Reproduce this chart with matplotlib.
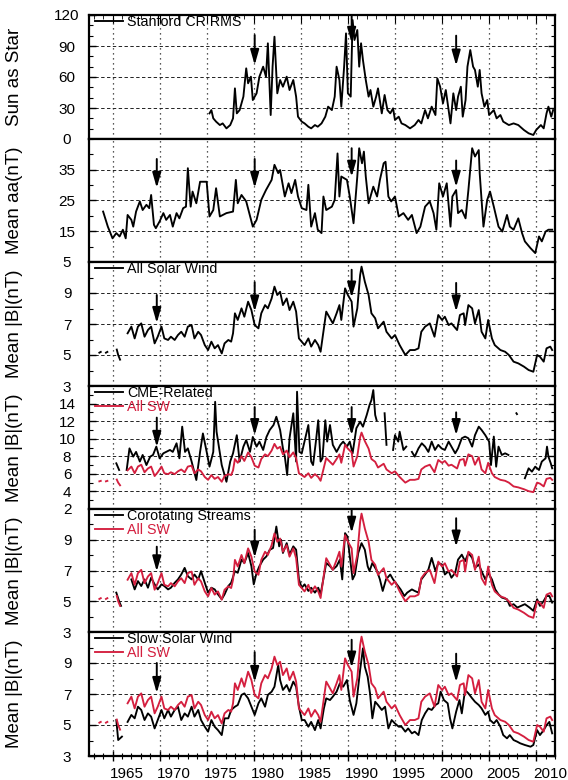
import numpy as np
import matplotlib
matplotlib.use("Agg")
import matplotlib.pyplot as plt
from matplotlib.ticker import MultipleLocator
import matplotlib.transforms as mtransforms

plt.rcParams["font.family"] = ["Liberation Sans", "DejaVu Sans"]
nan = np.nan

# ---- Stanford sun-as-a-star CR RMS field ----
wso_year = [1975.3, 1975.5, 1975.7, 1976.0, 1976.4, 1976.7, 1977.1, 1977.5, 1977.8, 1978.0,
            1978.2, 1978.5, 1978.9, 1979.2, 1979.4, 1979.7, 1979.9, 1980.3, 1980.6, 1981.0,
            1981.3, 1981.5, 1981.8, 1982.0, 1982.2, 1982.5, 1982.8, 1983.1, 1983.5, 1983.8,
            1984.2, 1984.5, 1984.7, 1985.1, 1985.4, 1985.8, 1986.1, 1986.5, 1986.8, 1987.2,
            1987.6, 1987.9, 1988.3, 1988.6, 1988.8, 1989.1, 1989.3, 1989.6, 1989.8, 1990.0,
            1990.3, 1990.5, 1990.7, 1991.0, 1991.2, 1991.4, 1991.6, 1991.9, 1992.2, 1992.4,
            1992.7, 1993.0, 1993.2, 1993.6, 1993.9, 1994.2, 1994.5, 1994.8, 1995.0, 1995.4,
            1995.7, 1996.1, 1996.6, 1997.1, 1997.5, 1997.8, 1998.2, 1998.5, 1998.9, 1999.3,
            1999.5, 1999.8, 2000.1, 2000.4, 2000.7, 2000.9, 2001.2, 2001.5, 2001.7, 2002.0,
            2002.2, 2002.5, 2002.7, 2003.0, 2003.3, 2003.5, 2003.8, 2004.0, 2004.2, 2004.5,
            2004.8, 2005.0, 2005.5, 2005.8, 2006.2, 2006.5, 2007.1, 2007.6, 2008.1, 2008.7,
            2009.2, 2009.7, 2010.0, 2010.5, 2010.8, 2011.1, 2011.3, 2011.6, 2011.8]
wso_rms = [24.8, 28.0, 20.0, 16.8, 13.5, 15.1, 10.3, 13.5, 20.0, 49.0,
           24.8, 28.0, 41.0, 68.4, 53.9, 60.3, 37.7, 44.2, 60.3, 70.0,
           60.3, 92.6, 23.2, 70.0, 99.0, 44.2, 57.1, 50.6, 60.3, 47.4,
           57.1, 41.0, 21.6, 16.8, 15.1, 11.9, 10.3, 13.5, 11.9, 15.1,
           21.6, 31.3, 28.0, 41.0, 70.0, 57.1, 31.3, 70.0, 102.2, 44.2,
           41.0, 115.1, 95.8, 105.5, 70.0, 92.6, 76.4, 57.1, 41.0, 47.4,
           31.3, 41.0, 49.0, 24.8, 42.6, 28.0, 24.8, 29.7, 18.4, 21.6,
           15.1, 13.5, 10.3, 13.5, 18.4, 15.1, 28.0, 20.0, 31.3, 23.2,
           58.7, 50.6, 34.5, 47.4, 28.0, 15.1, 44.2, 28.0, 41.0, 50.6,
           21.6, 37.7, 70.0, 86.1, 70.0, 66.8, 50.6, 66.8, 44.2, 31.3,
           37.7, 23.2, 28.0, 20.0, 23.2, 16.8, 13.5, 15.1, 13.5, 8.7,
           5.5, 3.9, 8.7, 13.5, 10.3, 24.8, 31.3, 21.6, 28.0]

# ---- mean aa index ----
aa_year = [1964.0, 1964.5, 1965.0, 1965.4, 1965.75, 1966.1, 1966.4, 1966.6, 1967.0, 1967.2,
           1967.5, 1967.9, 1968.2, 1968.6, 1968.9, 1969.1, 1969.4, 1969.6, 1970.0, 1970.4,
           1970.7, 1971.1, 1971.4, 1971.8, 1972.1, 1972.5, 1972.8, 1973.0, 1973.3, 1973.5,
           1973.9, 1974.3, 1975.0, 1975.3, 1975.7, 1976.0, 1976.4, 1977.1, 1977.8, 1978.1,
           1978.3, 1978.7, 1979.2, 1979.9, 1980.3, 1980.8, 1981.3, 1981.9, 1982.2, 1982.6,
           1982.8, 1983.3, 1983.7, 1984.0, 1984.4, 1984.7, 1985.1, 1985.6, 1985.8, 1986.1,
           1986.5, 1986.8, 1987.2, 1987.4, 1987.7, 1988.3, 1988.6, 1988.9, 1989.1, 1989.3,
           1989.9, 1990.2, 1990.6, 1991.0, 1991.2, 1991.5, 1991.7, 1991.9, 1992.2, 1992.7,
           1993.1, 1993.4, 1993.8, 1994.0, 1994.3, 1994.6, 1995.0, 1995.4, 1995.9, 1996.4,
           1996.8, 1997.3, 1997.7, 1998.2, 1998.7, 1999.1, 1999.4, 1999.7, 2000.1, 2000.5,
           2000.9, 2001.1, 2001.5, 2001.7, 2002.1, 2002.5, 2002.8, 2003.2, 2003.5, 2003.9,
           2004.0, 2004.4, 2004.8, 2005.1, 2005.5, 2006.0, 2006.4, 2006.9, 2007.2, 2007.6,
           2008.1, 2008.5, 2008.8, 2009.4, 2009.9, 2010.3, 2010.6, 2011.0, 2011.3, 2011.7]
aa_mean = [21.4, 16.5, 12.7, 14.4, 13.3, 15.5, 12.7, 20.3, 18.7, 16.5,
           21.4, 24.7, 21.9, 23.6, 22.5, 26.8, 17.1, 16.0, 18.2, 20.9,
           18.7, 20.3, 16.5, 20.9, 19.2, 22.5, 23.0, 35.5, 23.0, 27.9,
           24.1, 31.1, 31.1, 19.8, 21.9, 29.0, 19.8, 20.9, 21.4, 31.7,
           24.1, 26.8, 24.7, 16.5, 18.7, 25.2, 28.4, 31.7, 36.6, 33.9,
           34.9, 26.3, 30.6, 27.4, 31.7, 26.3, 22.5, 21.9, 30.1, 16.5,
           20.9, 15.5, 14.4, 26.3, 21.9, 23.0, 25.2, 40.3, 26.3, 32.8,
           31.7, 26.3, 17.6, 32.8, 42.0, 37.1, 40.9, 32.8, 24.1, 29.5,
           26.3, 31.7, 37.1, 37.6, 26.3, 24.7, 26.3, 19.8, 20.9, 18.7,
           20.3, 14.4, 16.5, 23.0, 24.7, 20.9, 15.5, 30.6, 26.3, 30.6,
           16.5, 26.3, 28.4, 20.9, 21.9, 19.2, 28.4, 42.0, 39.3, 41.4,
           33.9, 16.5, 25.2, 27.9, 23.0, 16.5, 14.9, 20.3, 16.5, 15.5,
           19.2, 14.4, 11.7, 9.5, 7.9, 13.3, 11.7, 14.9, 15.5, 15.5]

# ---- mean |B|, all solar wind ----
allsw_year = [1963.6, 1963.75, nan, 1964.3, 1964.45, nan, 1965.45, 1965.6, 1965.8, nan,
              1966.6, 1967.0, 1967.35, 1967.7, 1968.05, 1968.4, 1968.76, 1969.1, 1969.47, 1969.8,
              1970.2, 1970.5, 1970.9, 1971.2, 1971.6, 1971.95, 1972.3, 1972.66, 1973.0, 1973.4,
              1973.7, 1974.1, 1974.4, 1974.8, 1975.15, 1975.5, 1975.85, 1976.2, 1976.6, 1976.9,
              1977.3, 1977.6, 1977.8, 1978.0, 1978.3, 1978.7, 1979.0, 1979.4, 1979.75, 1980.1,
              1980.5, 1980.8, 1981.2, 1981.5, 1981.9, 1982.2, 1982.5, 1982.8, 1983.1, 1983.5,
              1983.8, 1984.2, 1984.5, 1984.8, 1985.1, 1985.4, 1985.8, 1986.1, 1986.5, 1986.85,
              1987.1, 1987.4, 1987.7, 1988.1, 1988.4, 1988.8, 1989.1, 1989.3, 1989.7, 1990.0,
              1990.4, 1990.6, 1991.0, 1991.3, 1991.45, 1991.8, 1992.2, 1992.5, 1992.9, 1993.2,
              1993.8, 1994.1, 1994.65, 1995.0, 1995.5, 1996.1, 1996.6, 1997.1, 1997.5, 1997.8,
              1998.2, 1998.7, 1999.2, 1999.6, 2000.0, 2000.3, 2000.7, 2001.0, 2001.6, 2001.9,
              2002.3, 2002.45, 2002.8, 2003.2, 2003.5, 2003.9, 2004.2, 2004.6, 2004.9, 2005.3,
              2005.6, 2006.2, 2006.7, 2007.1, 2007.6, 2008.1, 2008.7, 2009.2, 2009.7, 2010.1,
              2010.4, 2010.8, 2011.1, 2011.5, 2011.7]
allsw_b = [5.15, 5.2, nan, 5.15, 5.2, nan, 5.35, 5.0, 4.7, nan,
           6.4, 6.83, 6.07, 6.83, 7.04, 6.18, 6.61, 6.83, 5.75, 6.18,
           6.83, 6.07, 5.97, 6.18, 5.97, 6.29, 6.5, 6.18, 6.83, 6.93,
           6.07, 6.5, 6.29, 5.64, 5.32, 5.86, 5.43, 5.64, 5.1, 5.75,
           5.97, 5.86, 6.4, 7.69, 7.26, 8.01, 7.47, 8.44, 7.9, 6.93,
           6.72, 7.69, 8.22, 8.01, 8.65, 9.41, 8.87, 9.08, 8.22, 8.65,
           7.9, 8.44, 7.8, 6.07, 5.86, 5.64, 6.07, 5.54, 5.97, 5.64,
           5.21, 6.5, 7.8, 7.37, 7.04, 7.69, 8.22, 7.26, 9.3, 8.87,
           8.44, 6.83, 8.01, 10.16, 10.7, 9.73, 8.87, 7.69, 7.37, 6.72,
           7.15, 6.5, 6.07, 6.29, 5.64, 5.0, 5.32, 5.32, 5.43, 6.5,
           6.83, 7.04, 6.18, 7.58, 7.26, 7.47, 6.93, 7.04, 6.61, 7.58,
           7.69, 6.93, 8.22, 8.01, 7.04, 7.9, 6.5, 6.07, 7.26, 6.07,
           5.64, 5.32, 5.21, 5.0, 4.57, 4.46, 4.25, 4.03, 3.92, 5.0,
           4.89, 4.57, 5.43, 5.54, 5.32]

# ---- mean |B|, CME-related wind ----
cme_year = [1965.4, 1965.7, nan, 1966.5, 1966.8, 1967.2, 1967.5, 1967.9, 1968.2, 1968.6,
            1969.0, 1969.3, 1969.65, 1970.0, 1970.4, 1970.7, 1971.1, 1971.4, 1971.8, 1972.1,
            1972.4, 1972.7, 1973.0, 1973.4, 1973.9, 1974.3, 1974.6, 1975.0, 1975.3, 1975.7,
            1975.9, 1976.05, 1976.6, 1977.1, 1977.5, 1977.8, 1978.2, 1978.5, 1978.9, 1979.2,
            1979.6, 1979.9, 1980.3, 1980.6, 1981.0, 1981.35, 1981.7, 1982.1, 1982.4, 1982.8,
            1983.1, 1983.3, 1983.55, 1983.8, 1984.2, 1984.5, 1984.6, 1984.85, 1985.1, 1985.8,
            1986.1, 1986.3, 1986.6, 1986.85, 1987.1, 1987.3, 1987.6, 1987.8, 1988.1, 1988.4,
            1988.8, 1989.2, 1989.5, 1989.9, 1990.2, 1990.5, 1990.9, 1991.3, 1991.6, 1992.0,
            1992.3, 1992.5, 1992.7, 1992.9, 1993.05, nan, 1993.9, 1994.1, nan, 1994.8,
            1995.0, 1995.35, 1995.5, 1995.9, 1996.2, nan, 1996.8, 1997.1, 1997.5, 1997.85,
            1998.2, 1998.55, 1998.9, 1999.25, 1999.6, 1999.95, 2000.3, 2000.7, 2001.0, 2001.4,
            2001.7, 2002.1, 2002.45, 2002.8, 2003.2, 2003.5, 2003.9, 2004.2, 2004.6, 2005.0,
            2005.2, 2005.5, 2005.75, 2006.0, 2006.35, 2006.7, 2007.05, nan, 2007.9, 2007.96,
            nan, 2008.8, 2009.2, 2009.55, 2009.9, 2010.3, 2010.6, 2011.0, 2011.15, 2011.3,
            2011.55, 2011.7]
cme_b = [7.2, 6.44, nan, 6.44, 8.9, 7.96, 8.5, 7.4, 8.15, 7.0,
         7.96, 8.15, 9.1, 7.77, 8.34, 8.5, 8.72, 8.5, 9.48, 7.77,
         11.37, 8.5, 8.9, 7.4, 5.3, 8.5, 10.6, 8.5, 6.82, 8.5,
         14.2, 10.8, 7.0, 5.1, 7.4, 8.34, 10.4, 7.4, 9.1, 9.85,
         8.5, 10.2, 9.1, 9.67, 8.72, 10.2, 11.0, 11.56, 12.5, 11.0,
         8.9, 7.96, 5.87, 10.05, 12.9, 7.4, 15.35, 8.5, 8.34, 11.56,
         7.4, 7.0, 9.67, 12.1, 7.4, 7.77, 12.1, 9.67, 11.56, 9.3,
         8.5, 9.3, 9.67, 9.1, 9.67, 8.34, 11.2, 11.94, 11.37, 12.7,
         13.84, 14.4, 15.54, 12.7, 12.1, nan, 12.9, 9.3, nan, 8.72,
         10.4, 9.67, 10.8, 8.72, 9.1, nan, 8.5, 7.96, 8.9, 9.48,
         9.1, 8.5, 9.67, 8.72, 9.3, 8.9, 8.72, 9.67, 9.1, 8.34,
         8.9, 10.05, 10.24, 10.05, 9.1, 10.4, 11.37, 11.0, 10.4, 9.67,
         7.0, 10.24, 6.82, 9.1, 8.15, 8.34, 8.15, nan, 12.9, 12.8,
         nan, 5.5, 6.63, 6.25, 6.82, 6.44, 7.4, 7.77, 9.1, 7.96,
         7.2, 6.63]

# ---- mean |B|, corotating streams ----
cir_year = [1965.4, 1965.7, 1965.9, nan, 1967.0, 1967.35, 1967.7, 1968.05, 1968.4, 1968.76,
            1969.1, 1969.47, 1969.8, 1970.2, 1970.5, 1970.9, 1971.2, 1971.6, 1971.95, 1972.3,
            1972.66, 1973.0, 1973.4, 1973.7, 1974.1, 1974.4, 1974.8, 1975.15, 1975.5, 1975.85,
            1976.2, 1976.6, 1976.9, 1977.3, 1977.6, 1978.0, 1978.3, 1978.7, 1979.0, 1979.4,
            1979.75, 1980.0, 1980.3, 1980.6, 1981.0, 1981.35, 1981.7, 1982.05, 1982.4, 1982.7,
            1982.9, 1983.1, 1983.5, 1983.8, 1984.2, 1984.5, 1984.8, 1985.1, 1985.4, 1985.8,
            1986.1, 1986.5, 1986.85, 1987.1, 1987.45, 1987.7, 1988.1, 1988.4, 1988.8, 1989.15,
            1989.4, 1989.7, 1989.95, 1990.2, 1990.5, 1990.75, 1991.1, 1991.45, 1991.8, 1992.1,
            1992.3, 1992.6, 1993.1, 1993.4, 1993.7, 1994.05, 1994.5, 1994.8, 1995.2, 1995.6,
            1996.0, 1996.3, 1996.8, 1997.1, 1997.5, 1997.8, 1998.2, 1998.55, 1998.9, 1999.3,
            1999.6, 2000.0, 2000.3, 2000.7, 2001.0, 2001.4, 2001.7, 2002.1, 2002.45, 2002.8,
            2003.2, 2003.5, 2003.9, 2004.2, 2004.6, 2004.9, 2005.3, 2005.65, 2006.0, 2006.35,
            2006.9, 2007.2, 2007.6, 2008.0, 2008.4, 2008.8, 2009.3, 2009.7, 2010.1, 2010.4,
            2010.8, 2011.1, 2011.4, 2011.7]
cir_b = [5.56, 5.0, 4.7, nan, 6.42, 5.77, 6.31, 5.99, 6.42, 5.88,
         6.53, 6.1, 5.77, 6.1, 5.99, 5.77, 5.88, 6.2, 6.42, 6.74,
         7.17, 6.63, 6.42, 6.74, 6.42, 6.96, 6.2, 5.56, 5.88, 5.77,
         5.45, 5.13, 5.45, 5.99, 6.2, 6.96, 6.85, 7.71, 7.49, 8.14,
         7.28, 6.1, 6.85, 7.28, 7.71, 7.92, 8.35, 8.46, 9.86, 8.57,
         9.0, 8.14, 8.78, 8.03, 8.57, 8.35, 6.42, 5.88, 6.1, 5.67,
         5.88, 5.56, 5.88, 5.45, 6.63, 7.49, 7.28, 7.06, 7.28, 7.71,
         6.42, 9.43, 9.21, 7.92, 6.42, 6.74, 8.14, 8.78, 8.35, 7.28,
         6.96, 7.49, 6.96, 6.42, 5.67, 6.42, 6.74, 6.42, 6.1, 5.77,
         5.34, 5.56, 5.77, 5.67, 5.56, 6.42, 6.74, 7.06, 7.82, 6.96,
         7.49, 7.39, 6.74, 6.96, 6.53, 6.85, 7.71, 8.03, 7.6, 8.14,
         7.82, 7.17, 7.39, 6.96, 6.42, 6.85, 6.42, 5.77, 5.45, 5.24,
         5.13, 4.7, 4.81, 4.59, 4.7, 4.81, 4.59, 4.38, 5.13, 4.7,
         5.02, 5.34, 5.34, 4.91]

# ---- mean |B|, slow solar wind ----
slow_year = [1965.4, 1965.6, 1966.0, nan, 1966.6, 1967.0, 1967.35, 1967.7, 1968.05, 1968.4,
             1968.76, 1969.1, 1969.47, 1969.8, 1970.2, 1970.5, 1970.9, 1971.2, 1971.6, 1971.95,
             1972.3, 1972.66, 1973.0, 1973.4, 1973.7, 1974.1, 1974.4, 1974.8, 1975.15, 1975.5,
             1975.85, 1976.2, 1976.6, 1976.9, 1977.3, 1977.6, 1978.0, 1978.3, 1978.7, 1979.0,
             1979.4, 1979.75, 1980.1, 1980.5, 1980.8, 1981.2, 1981.5, 1981.9, 1982.2, 1982.6,
             1982.8, 1983.1, 1983.5, 1983.8, 1984.2, 1984.5, 1984.8, 1985.1, 1985.4, 1985.8,
             1986.1, 1986.5, 1986.85, 1987.1, 1987.45, 1987.7, 1988.1, 1988.4, 1988.8, 1989.15,
             1989.5, 1989.9, 1990.2, 1990.6, 1990.9, 1991.3, 1991.6, 1991.8, 1992.1, 1992.35,
             1992.6, 1992.9, 1993.2, 1993.6, 1993.95, 1994.3, 1994.65, 1995.0, 1995.4, 1995.7,
             1996.1, 1996.4, 1996.8, 1997.1, 1997.5, 1997.85, 1998.2, 1998.55, 1998.9, 1999.3,
             1999.6, 1999.85, 2000.2, 2000.6, 2000.85, 2001.1, 2001.5, 2001.85, 2002.1, 2002.45,
             2002.8, 2003.2, 2003.5, 2003.9, 2004.2, 2004.6, 2004.9, 2005.1, 2005.5, 2005.8,
             2006.2, 2006.5, 2006.9, 2007.2, 2007.6, 2008.0, 2008.3, 2008.8, 2009.4, 2009.7,
             2010.1, 2010.4, 2010.8, 2011.1, 2011.4, 2011.7]
slow_b = [5.32, 4.03, 4.25, nan, 5.2, 5.65, 5.43, 6.18, 5.97, 5.32,
          5.75, 5.54, 4.78, 5.32, 5.97, 5.43, 5.97, 5.54, 5.97, 6.18,
          5.32, 5.75, 5.54, 6.18, 5.54, 5.97, 5.32, 4.89, 4.57, 5.32,
          4.89, 4.67, 4.35, 5.43, 5.43, 5.97, 6.18, 6.29, 6.94, 7.04,
          6.72, 6.18, 5.65, 6.4, 6.72, 6.18, 6.94, 7.15, 7.47, 8.87,
          7.9, 7.26, 7.58, 7.15, 7.8, 7.47, 6.18, 5.32, 5.32, 4.89,
          5.2, 4.67, 5.32, 4.78, 6.07, 6.72, 6.61, 6.83, 7.15, 7.69,
          7.47, 7.9, 6.61, 5.65, 6.4, 8.55, 9.95, 8.76, 8.12, 7.04,
          5.43, 6.5, 6.29, 5.97, 6.18, 4.78, 5.32, 5.1, 4.89, 4.89,
          4.57, 4.78, 4.46, 4.57, 4.35, 5.32, 5.75, 6.07, 5.97, 6.29,
          6.4, 7.15, 6.61, 6.4, 5.43, 4.78, 5.86, 6.61, 5.75, 7.26,
          7.04, 6.72, 6.5, 6.29, 6.07, 5.65, 5.86, 5.32, 5.1, 5.32,
          4.89, 4.35, 4.14, 4.35, 4.03, 3.92, 3.82, 3.71, 3.6, 3.71,
          4.67, 4.35, 4.67, 4.99, 5.2, 4.46]

# ---- arrows marking the four epochs: (tail, head) per panel ----
arrow_years = [1969.7, 1980.1, 1990.4, 2001.5]
arrows_wso = [(None, None), (100.6, 71.6), (120.0, 93.0), (100.0, 71.0)]
arrows_aa = [(38.5, 29.1), (38.5, 29.1), (42.0, 32.7), (38.0, 29.4)]
arrows_all = [(8.87, 7.06), (9.7, 7.8), (10.5, 8.7), (9.65, 7.8)]
arrows_cme = [(12.4, 9.06), (13.6, 10.4), (13.6, 10.4), (13.0, 10.4)]
arrows_cir = [(8.55, 6.94), (9.65, 7.84), (11.0, 9.45), (10.4, 8.55)]
arrows_slow = [(9.0, 7.06), (9.7, 7.77), (10.5, 8.7), (9.6, 7.77)]

year_ticks = list(range(1965, 2011, 5))
RED = "#d41f3f"

W, H = 568, 780
fig = plt.figure(figsize=(W / 100, H / 100), dpi=100)
left_px, right_px = 89, 555
edges = [15, 139, 262, 386, 509, 632, 756]

panels = [
    dict(ylabel="Sun as Star", ylim=(0, 120), ticks=[0, 30, 60, 90, 120], minor=10,
         arrows=arrows_wso),
    dict(ylabel="Mean aa(nT)", ylim=(5, 45), ticks=[5, 15, 25, 35], minor=5,
         arrows=arrows_aa),
    dict(ylabel="Mean |B|(nT)", ylim=(3, 11), ticks=[3, 5, 7, 9], minor=1,
         arrows=arrows_all),
    dict(ylabel="Mean |B|(nT)", ylim=(2, 16), ticks=[2, 4, 6, 8, 10, 12, 14], minor=1,
         arrows=arrows_cme),
    dict(ylabel="Mean |B|(nT)", ylim=(3, 11), ticks=[3, 5, 7, 9], minor=1,
         arrows=arrows_cir),
    dict(ylabel="Mean |B|(nT)", ylim=(3, 11), ticks=[3, 5, 7, 9], minor=1,
         arrows=arrows_slow),
]

axes = []
for i, p in enumerate(panels):
    top, bot = edges[i], edges[i + 1]
    ax = fig.add_axes([left_px / W, 1 - bot / H, (right_px - left_px) / W, (bot - top) / H])
    axes.append(ax)
    ax.set_xlim(1962.5, 2012.0)
    ax.set_ylim(*p["ylim"])
    ax.set_yticks(p["ticks"])
    ax.yaxis.set_minor_locator(MultipleLocator(p["minor"]))
    ax.set_xticks(year_ticks)
    ax.xaxis.set_minor_locator(MultipleLocator(1))
    ax.tick_params(axis="y", which="both", direction="in", left=True, right=True,
                   labelsize=11, pad=15.8)
    ax.tick_params(axis="y", which="major", length=5, width=1)
    ax.tick_params(axis="y", which="minor", length=3, width=0.8)
    for lbl in ax.get_yticklabels():
        lbl.set_horizontalalignment("center")
    ax.tick_params(axis="x", which="both", top=False, bottom=False, labelbottom=False)
    for s in ax.spines.values():
        s.set_linewidth(1.6)
    ax.yaxis.grid(True, which="major", linestyle=(0, (3.5, 2.5)), color="#222222", lw=0.7)
    ax.xaxis.grid(True, which="major", linestyle=(0, (1, 3)), color="#222222", lw=0.9)
    ax.set_ylabel(p["ylabel"], fontsize=13.5)
    ax.yaxis.set_label_coords(-(89 - 23) / (right_px - left_px), 0.5)
    for yr, (tail, head) in zip(arrow_years, p["arrows"]):
        if tail is None:
            continue
        ax.annotate("", xy=(yr, head), xytext=(yr, tail),
                    arrowprops=dict(arrowstyle="-|>,head_length=0.7,head_width=0.2",
                                    color="black", lw=1.4, shrinkA=0, shrinkB=0,
                                    mutation_scale=13))

# top axis ticks on the first panel, bottom axis on the last
axes[0].tick_params(axis="x", which="both", top=True, direction="in")
axes[0].tick_params(axis="x", which="major", length=6)
axes[0].tick_params(axis="x", which="minor", length=3)
axb = axes[-1]
axb.tick_params(axis="x", which="both", bottom=True, labelbottom=True, direction="inout",
                labelsize=11, pad=4.7)
axb.tick_params(axis="x", which="major", length=7, width=1)
axb.tick_params(axis="x", which="minor", length=4, width=0.8)
axb.set_xticklabels([str(y) for y in year_ticks])
shift = mtransforms.ScaledTranslation(-3 / 100, 0, fig.dpi_scale_trans)
for lbl in axb.get_xticklabels():
    lbl.set_horizontalalignment("left")
    lbl.set_transform(lbl.get_transform() + shift)

lw = 1.35
axes[0].plot(wso_year, wso_rms, color="black", lw=lw, label="Stanford CR RMS")
axes[1].plot(aa_year, aa_mean, color="black", lw=lw)
axes[2].plot(allsw_year, allsw_b, color="black", lw=lw, label="All Solar Wind")
axes[3].plot(cme_year, cme_b, color="black", lw=lw, label="CME-Related")
axes[3].plot(allsw_year, allsw_b, color=RED, lw=lw, label="All SW")
axes[4].plot(cir_year, cir_b, color="black", lw=lw, label="Corotating Streams")
axes[4].plot(allsw_year, allsw_b, color=RED, lw=lw, label="All SW")
axes[5].plot(slow_year, slow_b, color="black", lw=lw, label="Slow Solar Wind")
axes[5].plot(allsw_year, allsw_b, color=RED, lw=lw, label="All SW")

for i in [0, 2, 3, 4, 5]:
    axes[i].legend(loc="upper left", bbox_to_anchor=(0.012, 1.0), frameon=False,
                   fontsize=10.3, handlelength=2.0, handletextpad=0.25, borderpad=0,
                   borderaxespad=0, labelspacing=0.0, labelcolor="linecolor")

fig.savefig("out.png", dpi=100)
